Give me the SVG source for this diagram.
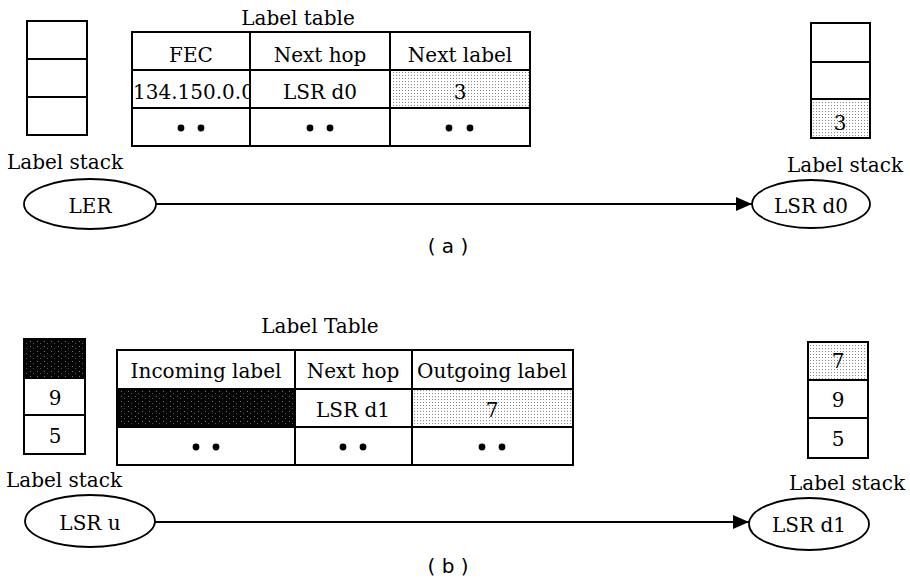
<svg xmlns="http://www.w3.org/2000/svg" width="910" height="579" viewBox="0 0 910 579">
<style>
.t{font-family:"DejaVu Serif","Liberation Serif",serif;font-size:20px;fill:#000;text-anchor:middle}
.s{font-family:"DejaVu Sans","Liberation Sans",sans-serif;font-size:20px;fill:#000;text-anchor:middle}
.b{fill:none;stroke:#000;stroke-width:2}
.e{fill:#fff;stroke:#000;stroke-width:1.8}
.ln{stroke:#000;stroke-width:2;fill:none}
.dot{fill:#000}
</style>
<defs>
<pattern id="lt" width="3" height="3" patternUnits="userSpaceOnUse"><rect width="3" height="3" fill="#fff"/><rect width="1" height="1" fill="#888"/></pattern>
<pattern id="dk" width="7" height="5" patternUnits="userSpaceOnUse"><rect width="7" height="5" fill="#050505"/><rect x="2" y="1" width="1" height="1" fill="#777"/><rect x="5" y="3" width="1" height="1" fill="#555"/></pattern>
<marker id="arr" viewBox="0 0 16 14" refX="16" refY="7" markerWidth="16" markerHeight="14" markerUnits="userSpaceOnUse" orient="auto"><path d="M0,0 L16,7 L0,14 Z" fill="#000"/></marker>
<clipPath id="fecclip"><rect x="131" y="70" width="119" height="38"/></clipPath>
</defs>

<!-- (a) -->
<g id="stack-a-left">
<rect class="b" x="27" y="21" width="60" height="114"/>
<line class="ln" x1="27" y1="59" x2="87" y2="59"/>
<line class="ln" x1="27" y1="97" x2="87" y2="97"/>
<text class="t" x="65" y="169">Label stack</text>
</g>

<g id="table-a">
<text class="t" x="298" y="25">Label table</text>
<rect x="390" y="70" width="140" height="38" fill="url(#lt)"/>
<rect class="b" x="132" y="32" width="398" height="114"/>
<line class="ln" x1="132" y1="70" x2="530" y2="70"/>
<line class="ln" x1="132" y1="108" x2="530" y2="108"/>
<line class="ln" x1="250" y1="32" x2="250" y2="146"/>
<line class="ln" x1="390" y1="32" x2="390" y2="146"/>
<text class="t" x="191" y="62">FEC</text>
<text class="t" x="320" y="62">Next hop</text>
<text class="t" x="460" y="62">Next label</text>
<g clip-path="url(#fecclip)"><text class="t" x="133" y="99" style="text-anchor:start">134.150.0.0</text></g>
<text class="t" x="320" y="99">LSR d0</text>
<text class="t" x="460" y="99">3</text>
<circle class="dot" cx="181" cy="128" r="3.4"/><circle class="dot" cx="201" cy="128" r="3.4"/>
<circle class="dot" cx="310" cy="128" r="3.4"/><circle class="dot" cx="330" cy="128" r="3.4"/>
<circle class="dot" cx="449" cy="128" r="3.4"/><circle class="dot" cx="470" cy="128" r="3.4"/>
</g>

<g id="stack-a-right">
<rect x="811" y="99" width="59" height="39" fill="url(#lt)"/>
<rect class="b" x="811" y="23" width="59" height="115"/>
<line class="ln" x1="811" y1="62" x2="870" y2="62"/>
<line class="ln" x1="811" y1="99" x2="870" y2="99"/>
<text class="t" x="840" y="130">3</text>
<text class="t" x="845" y="172">Label stack</text>
</g>

<g id="connectors">
<line class="ln" x1="156" y1="204" x2="752" y2="204" marker-end="url(#arr)"/>
<line class="ln" x1="155" y1="522" x2="749" y2="522" marker-end="url(#arr)"/>
</g>

<g id="node-ler">
<ellipse class="e" cx="90" cy="204" rx="66" ry="25"/>
<text class="t" x="90" y="213">LER</text>
</g>
<g id="node-lsr-d0">
<ellipse class="e" cx="811" cy="204" rx="59" ry="24"/>
<text class="t" x="811" y="213">LSR d0</text>
</g>
<text class="s" x="448" y="253">( a )</text>

<!-- (b) -->
<g id="stack-b-left">
<rect x="24" y="339" width="61" height="39" fill="url(#dk)"/>
<rect class="b" x="24" y="339" width="61" height="115"/>
<line class="ln" x1="24" y1="378" x2="85" y2="378"/>
<line class="ln" x1="24" y1="415" x2="85" y2="415"/>
<text class="t" x="55" y="405">9</text>
<text class="t" x="55" y="443">5</text>
<text class="t" x="64" y="487">Label stack</text>
</g>

<g id="table-b">
<text class="t" x="320" y="333">Label Table</text>
<rect x="117" y="389" width="178" height="38" fill="url(#dk)"/>
<rect x="412" y="389" width="161" height="38" fill="url(#lt)"/>
<rect class="b" x="117" y="350" width="456" height="115"/>
<line class="ln" x1="117" y1="389" x2="573" y2="389"/>
<line class="ln" x1="117" y1="427" x2="573" y2="427"/>
<line class="ln" x1="295" y1="350" x2="295" y2="465"/>
<line class="ln" x1="412" y1="350" x2="412" y2="465"/>
<text class="t" x="206" y="378">Incoming label</text>
<text class="t" x="353" y="378">Next hop</text>
<text class="t" x="492" y="378">Outgoing label</text>
<text class="t" x="353" y="417">LSR d1</text>
<text class="t" x="492" y="417">7</text>
<circle class="dot" cx="196" cy="447" r="3.4"/><circle class="dot" cx="216" cy="447" r="3.4"/>
<circle class="dot" cx="343" cy="447" r="3.4"/><circle class="dot" cx="363" cy="447" r="3.4"/>
<circle class="dot" cx="482" cy="447" r="3.4"/><circle class="dot" cx="502" cy="447" r="3.4"/>
</g>

<g id="stack-b-right">
<rect x="808" y="342" width="60" height="38" fill="url(#lt)"/>
<rect class="b" x="808" y="342" width="60" height="116"/>
<line class="ln" x1="808" y1="380" x2="868" y2="380"/>
<line class="ln" x1="808" y1="418" x2="868" y2="418"/>
<text class="t" x="838" y="368">7</text>
<text class="t" x="838" y="407">9</text>
<text class="t" x="838" y="446">5</text>
<text class="t" x="847" y="490">Label stack</text>
</g>

<g id="node-lsr-u">
<ellipse class="e" cx="90" cy="521" rx="65" ry="26"/>
<text class="t" x="90" y="530">LSR u</text>
</g>
<g id="node-lsr-d1">
<ellipse class="e" cx="809" cy="524" rx="60" ry="26"/>
<text class="t" x="809" y="532">LSR d1</text>
</g>
<text class="s" x="448" y="573">( b )</text>
</svg>
